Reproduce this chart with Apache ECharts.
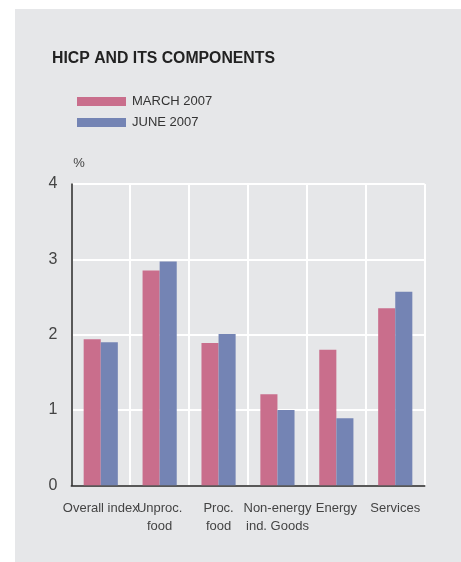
<!DOCTYPE html>
<html>
<head>
<meta charset="utf-8">
<script src="https://cdn.jsdelivr.net/npm/echarts@6/dist/echarts.min.js"></script>
<style>html,body{margin:0;padding:0;background:#fff;}#c{width:461px;height:562px;}</style>
</head>
<body>
<div id="c"></div>
<script>
const categories = ['Overall index', 'Unproc.\nfood', 'Proc.\nfood', 'Non-energy\nind. Goods', 'Energy', 'Services'];
const seriesNames = ['MARCH 2007', 'JUNE 2007'];
const march2007 = [1.94, 2.85, 1.89, 1.21, 1.80, 2.35];
const june2007 = [1.90, 2.97, 2.01, 1.00, 0.89, 2.57];
const yTicks = [0, 1, 2, 3, 4];

const chart = echarts.init(document.getElementById('c'), null, {renderer: 'canvas'});
const font = '"Liberation Sans", Arial, sans-serif';
chart.setOption({
  animation: false,
  backgroundColor: '#ffffff',
  graphic: [{
    type: 'rect', z: -10, silent: true,
    shape: {x: 15, y: 9, width: 446, height: 553},
    style: {fill: '#e6e7e9'}
  }],
  title: {
    text: 'HICP AND ITS COMPONENTS',
    left: 52, top: 51, padding: 0,
    textStyle: {fontFamily: font, fontSize: 15.8, fontWeight: 'bold', color: '#222'}
  },
  legend: {
    orient: 'vertical', left: 77, top: 95, padding: 0,
    itemWidth: 49, itemHeight: 9, itemGap: 8,
    icon: 'rect',
    data: seriesNames,
    textStyle: {fontFamily: font, fontSize: 13, color: '#333', padding: [0, 0, 0, 1]}
  },
  grid: {left: 71.3, top: 184, right: 36.3, bottom: 76.7, containLabel: false},
  xAxis: {
    type: 'category',
    data: categories,
    boundaryGap: true,
    axisLine: {show: true, lineStyle: {color: '#222', width: 1.5}},
    axisTick: {show: false},
    splitLine: {show: true, lineStyle: {color: '#ffffff', width: 2}},
    axisLabel: {interval: 0, hideOverlap: false, margin: 13.5, fontFamily: font, fontSize: 13, color: '#444', lineHeight: 18.5}
  },
  yAxis: {
    type: 'value', min: yTicks[0], max: yTicks[yTicks.length - 1], interval: 1,
    name: '%', nameLocation: 'end', nameGap: 14,
    nameTextStyle: {fontFamily: font, fontSize: 13, color: '#444', align: 'left', padding: [0, 0, 0, 2]},
    axisLine: {show: true, lineStyle: {color: '#222', width: 1.5}},
    axisTick: {show: false},
    splitLine: {show: true, lineStyle: {color: '#ffffff', width: 2}},
    axisLabel: {margin: 14, fontFamily: font, fontSize: 16, color: '#444'}
  },
  series: [
    {name: seriesNames[0], type: 'bar', data: march2007, barGap: '0%', barCategoryGap: '42%', itemStyle: {color: '#c96e8c'}},
    {name: seriesNames[1], type: 'bar', data: june2007, barGap: '0%', barCategoryGap: '42%', itemStyle: {color: '#7484b4'}}
  ]
});
</script>
</body>
</html>
